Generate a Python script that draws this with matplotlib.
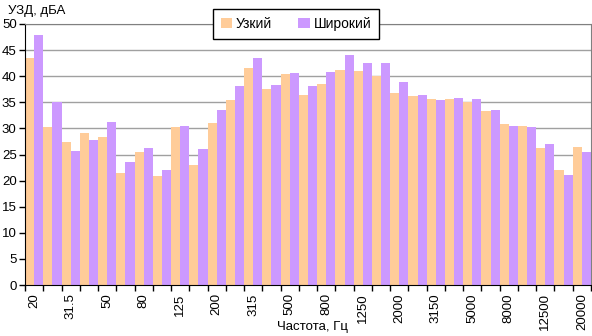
import matplotlib
matplotlib.use("Agg")
import matplotlib.pyplot as plt
import numpy as np

plt.rcParams['font.family'] = ['Liberation Sans', 'DejaVu Sans']

categories = ["20", "25", "31.5", "40", "50", "63", "80", "100", "125", "160",
              "200", "250", "315", "400", "500", "630", "800", "1000", "1250", "1600",
              "2000", "2500", "3150", "4000", "5000", "6300", "8000", "10000", "12500", "16000", "20000"]
narrow = [43.5, 30.2, 27.4, 29.2, 28.3, 21.4, 25.4, 20.9, 30.2, 22.9,
          31.1, 35.5, 41.6, 37.6, 40.5, 36.4, 38.6, 41.2, 41.0, 40.1,
          36.8, 36.3, 35.7, 35.7, 35.1, 33.4, 30.9, 30.5, 26.3, 22.1, 26.5]
wide = [47.8, 35.0, 25.7, 27.7, 31.3, 23.6, 26.2, 22.1, 30.4, 26.0,
        33.6, 38.2, 43.4, 38.4, 40.7, 38.2, 40.9, 44.1, 42.6, 42.5,
        38.9, 36.4, 35.5, 35.9, 35.7, 33.6, 30.5, 30.3, 27.0, 21.1, 25.5]
series_names = ["Узкий", "Широкий"]
colors = ["#FFCC99", "#CC99FF"]

fig = plt.figure(figsize=(5.92, 3.36), dpi=100)
ax = fig.add_axes([25/592, 1 - 285/336, 566/592, 261/336])

n = len(categories)
x = np.arange(n)
w = 0.5
ax.bar(x - w/2, narrow, width=w, color=colors[0], label=series_names[0], zorder=2, linewidth=0)
ax.bar(x + w/2, wide, width=w, color=colors[1], label=series_names[1], zorder=2, linewidth=0)

ax.set_xlim(-0.5, n - 0.5)
ax.set_ylim(0, 50)
ax.set_yticks(np.arange(0, 51, 5))
ax.yaxis.grid(True, color="#A0A0A0", linewidth=1, zorder=0)
ax.set_axisbelow(True)

ax.set_xticks(np.arange(n + 1) - 0.5)
ax.set_xticklabels([])
ax.tick_params(axis='x', which='major', length=4, width=1, color='black', direction='out')
ax.set_xticks(x[::2], minor=True)
ax.set_xticklabels(categories[::2], minor=True, rotation=90, fontsize=9.5)
ax.tick_params(axis='x', which='minor', length=0, pad=6)
ax.tick_params(axis='y', length=4, width=1, labelsize=9.5, pad=2)

for s in ['top', 'right']:
    ax.spines[s].set_color('#808080')
for s in ['left', 'bottom']:
    ax.spines[s].set_color('black')

fig.text(8/592, 1 - 11/336, "УЗД, дБА", fontsize=9.5, va='center', ha='left')
fig.text(312/592, 1 - 327/336, "Частота, Гц", fontsize=9.5, va='center', ha='center')

leg = ax.legend(loc='center', bbox_to_anchor=((296 - 25) / 566, 1.0), ncol=2, frameon=True,
                fancybox=False, edgecolor='black', fontsize=10, handlelength=0.8,
                handleheight=0.8, columnspacing=1.9, handletextpad=0.3, borderpad=0.55,
                borderaxespad=0)
leg.get_frame().set_linewidth(1)
leg.get_frame().set_alpha(1)

fig.savefig("out.png", dpi=100)
